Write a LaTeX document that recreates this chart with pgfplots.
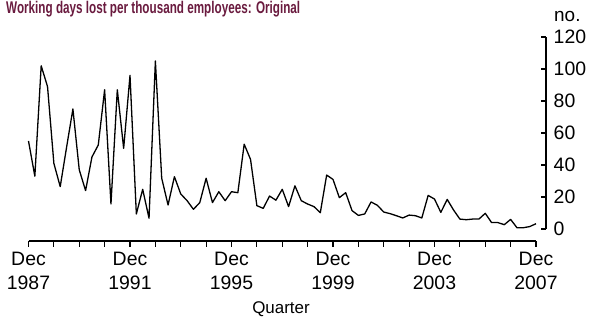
\documentclass[border=0pt]{standalone}
\usepackage{fontspec}
\setmainfont{Liberation Sans}
\usepackage{graphicx}
\usepackage{pgfplots}
\pgfplotsset{compat=1.18}
\definecolor{titlecol}{HTML}{6A1B3F}
\begin{document}
\begin{tikzpicture}
\path[use as bounding box] (0,0) rectangle (593bp,317bp);
\node[anchor=base west, inner sep=0pt, text=titlecol, font=\fontsize{17}{20}\selectfont\bfseries] at (6bp,303.5bp) {\resizebox{294bp}{\height}{Working days lost per thousand employees: Original}};
\node[anchor=base west, inner sep=0pt, font=\fontsize{19}{22}\selectfont] at (554bp,295bp) {no.};
\node[anchor=base, inner sep=0pt, font=\fontsize{17}{20}\selectfont] at (281bp,3.5bp) {Quarter};
\begin{axis}[
  scale only axis, width=507.5bp, height=204bp,
  at={(28.5bp,76bp)}, anchor=south west,
  xmin=0, xmax=80, ymin=-7.5, ymax=120,
  axis x line=bottom, axis y line=none,
  axis line style={-, line width=1.1bp, black},
  every tick/.style={black, line width=1.1bp},
  tick align=outside, major tick length=6bp,
  xtick={0,4,...,80},
  xticklabels={{Dec\\1987},{},{},{},{Dec\\1991},{},{},{},{Dec\\1995},{},{},{},{Dec\\1999},{},{},{},{Dec\\2003},{},{},{},{Dec\\2007}},
  xticklabel style={align=center, font=\fontsize{19.5}{24}\selectfont, inner sep=0pt, anchor=north, yshift=-5bp},
  clip=false,
]
\addplot[black, line width=1.3bp, line join=round] coordinates {
(0,55) (1,33) (2,102) (3,89) (4,41) (5,26.5) (6,51) (7,75) (8,37) (9,24)
(10,45) (11,52.5) (12,87) (13,15.6) (14,87) (15,50.4) (16,96) (17,9.4) (18,24.8) (19,6.7)
(20,105) (21,31.7) (22,15) (23,32.7) (24,21.9) (25,17.7) (26,12.3) (27,16.5) (28,31.7) (29,16.5)
(30,23.3) (31,17.7) (32,23.3) (33,22.7) (34,53) (35,43.5) (36,14.6) (37,12.9) (38,20.6) (39,18)
(40,24.8) (41,14) (42,27) (43,17.7) (44,15.6) (45,14) (46,10.2) (47,33.7) (48,31) (49,19.6)
(50,22.7) (51,11.5) (52,8.5) (53,9.4) (54,16.9) (55,14.8) (56,10.6) (57,9.6) (58,8.3) (59,6.9)
(60,8.7) (61,8.3) (62,6.9) (63,21) (64,18.7) (65,10.4) (66,18.5) (67,11.9) (68,6.2) (69,5.8)
(70,6.2) (71,6.2) (72,9.8) (73,4) (74,4) (75,2.7) (76,6) (77,0.8) (78,0.8) (79,1.5)
(80,3.3)
};
\end{axis}
\begin{axis}[
  scale only axis, width=10bp, height=192bp,
  at={(536bp,88bp)}, anchor=south west,
  xmin=0, xmax=1, ymin=0, ymax=120,
  axis x line=none, axis y line=right,
  axis line style={-, line width=1.1bp, black},
  every tick/.style={black, line width=1.1bp},
  tick align=inside, major tick length=5bp,
  ytick={0,20,...,120},
  yticklabel style={anchor=west, inner sep=0pt, xshift=7.5bp, font=\fontsize{19.5}{24}\selectfont},
  /pgf/number format/assume math mode=true,
]
\addplot[draw=none] coordinates {(0,0)};
\end{axis}
\end{tikzpicture}
\end{document}
